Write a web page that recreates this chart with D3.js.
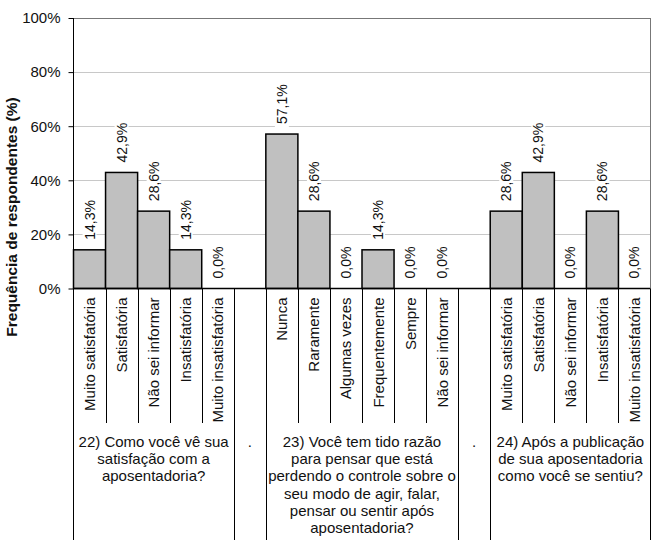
<!DOCTYPE html>
<html>
<head>
<meta charset="utf-8">
<script src="https://cdn.jsdelivr.net/npm/d3@7"></script>
<style>
  body { margin: 0; background: #fff; }
  text { font-family: "Liberation Sans", Arial, sans-serif; fill: #111; }
</style>
</head>
<body>
<div id="chart"></div>
<script>
// data
const q22Cats = ["Muito satisfatória", "Satisfatória", "Não sei informar", "Insatisfatória", "Muito insatisfatória"];
const q22Vals = [14.3, 42.9, 28.6, 14.3, 0.0];
const q23Cats = ["Nunca", "Raramente", "Algumas vezes", "Frequentemente", "Sempre", "Não sei informar"];
const q23Vals = [57.1, 28.6, 0.0, 14.3, 0.0, 0.0];
const q24Cats = ["Muito satisfatória", "Satisfatória", "Não sei informar", "Insatisfatória", "Muito insatisfatória"];
const q24Vals = [28.6, 42.9, 0.0, 28.6, 0.0];
const groupLabels = [
    ["22) Como você vê sua", "satisfação com a", "aposentadoria?"],
    ["23) Você tem tido razão", "para pensar que está", "perdendo o controle sobre o", "seu modo de agir, falar,", "pensar ou sentir após", "aposentadoria?"],
    ["24) Após a publicação", "de sua aposentadoria", "como você se sentiu?"]
];
const yTicks = [0, 20, 40, 60, 80, 100];
const yTitle = "Frequência de respondentes (%)";

const width = 652, height = 540;
const plotLeft = 73.5, plotRight = 650.5, plotTop = 18, plotBottom = 288.5;
const catBottom = 423;

// build the slots: groups separated by one empty slot with a "." label
const groups = [
    { cats: q22Cats, vals: q22Vals, label: groupLabels[0] },
    { cats: q23Cats, vals: q23Vals, label: groupLabels[1] },
    { cats: q24Cats, vals: q24Vals, label: groupLabels[2] }
];
const slots = [];
const groupSpans = [];
groups.forEach((g, gi) => {
    if (gi > 0) {
        slots.push({ id: "gap" + gi, gap: true });
        groupSpans.push({ start: slots.length - 1, end: slots.length - 1, label: ["."], gap: true });
    }
    const start = slots.length;
    g.cats.forEach((c, i) => slots.push({ id: gi + "-" + i, cat: c, val: g.vals[i] }));
    groupSpans.push({ start: start, end: slots.length - 1, label: g.label });
});

const x = d3.scaleBand().domain(slots.map(d => d.id)).range([plotLeft, plotRight]).padding(0);
const y = d3.scaleLinear().domain([0, 100]).range([plotBottom, plotTop]);
const bw = x.bandwidth();

const svg = d3.select("#chart").append("svg")
    .attr("width", width)
    .attr("height", height);

// gridlines
svg.append("g")
    .selectAll("line")
    .data(yTicks.filter(t => t > 0 && t < 100))
    .enter().append("line")
    .attr("x1", plotLeft).attr("x2", plotRight)
    .attr("y1", d => Math.round(y(d)) + 0.5).attr("y2", d => Math.round(y(d)) + 0.5)
    .attr("stroke", "#c8c8c8");

// plot border top
svg.append("line").attr("x1", plotLeft).attr("x2", plotRight).attr("y1", plotTop + 0.5).attr("y2", plotTop + 0.5)
    .attr("stroke", "#777");

// y axis
const yAxis = svg.append("g")
    .attr("transform", `translate(${plotLeft},0)`)
    .call(d3.axisLeft(y).tickValues(yTicks).tickFormat(d => d + "%").tickSize(5).tickPadding(8));
yAxis.select(".domain").remove();
yAxis.selectAll("line").attr("stroke", "#000");
yAxis.selectAll("text").attr("font-size", 15).attr("fill", "#111")
    .style("font-family", '"Liberation Sans", Arial, sans-serif');

// bars
const real = slots.filter(d => !d.gap);
svg.append("g")
    .selectAll("rect")
    .data(real.filter(d => d.val > 0))
    .enter().append("rect")
    .attr("x", d => x(d.id))
    .attr("y", d => y(d.val))
    .attr("width", bw)
    .attr("height", d => y(0) - y(d.val))
    .attr("fill", "#c0c0c0")
    .attr("stroke", "#000")
    .attr("stroke-width", 1.5);

// value labels, with a white box behind them
const lab = svg.append("g")
    .selectAll("g")
    .data(real)
    .enter().append("g")
    .attr("transform", d => `translate(${x(d.id) + bw / 2},${y(d.val) - 10}) rotate(-90)`);
lab.append("rect").attr("fill", "#fff");
lab.append("text")
    .attr("x", 0).attr("y", 5)
    .attr("font-size", 14)
    .text(d => d.val.toFixed(1).replace(".", ",") + "%");
lab.each(function () {
    const g = d3.select(this);
    const w = g.select("text").node().getComputedTextLength();
    g.select("rect").attr("x", -3).attr("y", -7).attr("width", w + 6).attr("height", 14);
});

// bottom axis line
svg.append("line").attr("x1", plotLeft).attr("x2", plotRight).attr("y1", plotBottom).attr("y2", plotBottom)
    .attr("stroke", "#000").attr("stroke-width", 1.5);

// category separators
const inner = [];
groupSpans.filter(s => !s.gap).forEach(s => {
    for (let i = s.start + 1; i <= s.end; i++) inner.push(slots[i].id);
});
svg.append("g")
    .selectAll("line")
    .data(inner)
    .enter().append("line")
    .attr("x1", d => Math.round(x(d)) + 0.5).attr("x2", d => Math.round(x(d)) + 0.5)
    .attr("y1", plotBottom).attr("y2", catBottom)
    .attr("stroke", "#000");

// group boundaries (full height down)
const bounds = groupSpans.map(s => x(slots[s.start].id));
svg.append("g")
    .selectAll("line")
    .data(bounds.slice(1))
    .enter().append("line")
    .attr("x1", d => Math.round(d) + 0.5).attr("x2", d => Math.round(d) + 0.5)
    .attr("y1", plotBottom).attr("y2", height)
    .attr("stroke", "#000");
svg.append("line").attr("x1", plotLeft).attr("x2", plotLeft).attr("y1", plotTop).attr("y2", height)
    .attr("stroke", "#000");
svg.append("line").attr("x1", plotRight).attr("x2", plotRight).attr("y1", plotTop).attr("y2", plotBottom)
    .attr("stroke", "#777");
svg.append("line").attr("x1", plotRight).attr("x2", plotRight).attr("y1", plotBottom).attr("y2", height)
    .attr("stroke", "#000");

// category labels
svg.append("g")
    .selectAll("text")
    .data(real)
    .enter().append("text")
    .attr("transform", d => `translate(${x(d.id) + bw / 2},${plotBottom + 9}) rotate(-90)`)
    .attr("y", 5.5)
    .attr("text-anchor", "end")
    .attr("font-size", 15)
    .text(d => d.cat);

// group labels
const gl = svg.append("g")
    .selectAll("text")
    .data(groupSpans)
    .enter().append("text")
    .attr("text-anchor", "middle")
    .attr("font-size", 15)
    .attr("x", d => (x(slots[d.start].id) + x(slots[d.end].id) + bw) / 2)
    .attr("y", 447);
gl.selectAll("tspan")
    .data(d => d.label)
    .enter().append("tspan")
    .attr("x", function () { return d3.select(this.parentNode).attr("x"); })
    .attr("dy", (d, i) => i === 0 ? 0 : 17.2)
    .text(d => d);

// y title
svg.append("text")
    .attr("transform", "translate(16.5,217) rotate(-90)")
    .attr("text-anchor", "middle")
    .attr("font-size", 15.5)
    .attr("font-weight", "bold")
    .text(yTitle);
</script>
</body>
</html>
